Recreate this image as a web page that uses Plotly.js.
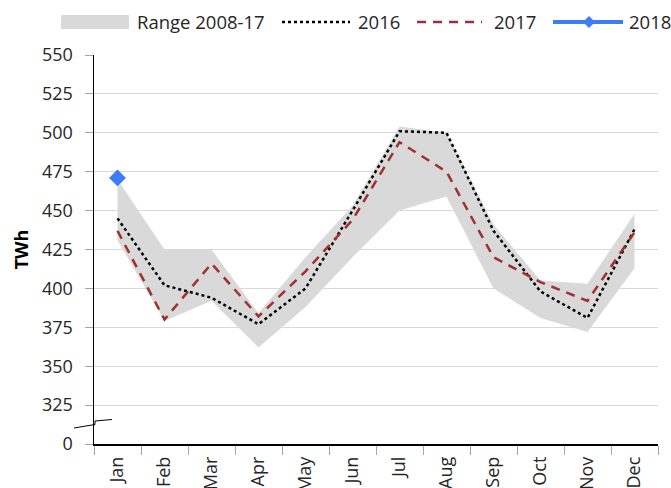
<!DOCTYPE html>
<html>
<head>
<meta charset="utf-8">
<script src="https://cdn.plot.ly/plotly-3.0.1.min.js"></script>
<style>html,body{margin:0;padding:0;background:#fff;}#chart{width:671px;height:488px;}</style>
</head>
<body>
<div id="chart"></div>
<script>
const months = ['Jan','Feb','Mar','Apr','May','Jun','Jul','Aug','Sep','Oct','Nov','Dec'];
const rangeMin = [431, 379, 392, 362, 388, 420, 450, 459, 400, 381, 372, 413];
const rangeMax = [470, 425, 425, 384, 420, 453, 504, 500, 441, 405, 403, 448];
const y2016 = [445, 402, 394, 377, 400, 450, 501, 500, 437, 398, 381, 438];
const y2017 = [437, 380, 416, 382, 411, 444, 494, 475, 420, 404, 392, 436];
const y2018 = [471];
const yTickVals = [300, 325, 350, 375, 400, 425, 450, 475, 500, 525, 550];
const yTickText = ['0', '325', '350', '375', '400', '425', '450', '475', '500', '525', '550'];

const W = 671, H = 488;
const M = {l: 94, r: 13, t: 55, b: 44};
const PW = W - M.l - M.r, PH = H - M.t - M.b;
const px = x => (x - M.l) / PW;
const py = y => (H - M.b - y) / PH;

const FONT = 'Open Sans, Noto Sans, sans-serif';
const grey = '#d9d9d9', red = '#a0302d', blue = '#3b7df5';

const traces = [
  {x: months, y: rangeMin, type: 'scatter', mode: 'lines', line: {width: 0, color: grey}, hoverinfo: 'skip', showlegend: false},
  {x: months, y: rangeMax, type: 'scatter', mode: 'lines', fill: 'tonexty', fillcolor: grey, line: {width: 0, color: grey}, name: 'Range 2008-17', showlegend: false},
  {x: months, y: y2016, type: 'scatter', mode: 'lines', line: {color: '#000', width: 2.5, dash: 'dot'}, name: '2016', showlegend: false},
  {x: months, y: y2017, type: 'scatter', mode: 'lines', line: {color: red, width: 2.5, dash: '9px,7px'}, name: '2017', showlegend: false},
  {x: months.slice(0, y2018.length), y: y2018, type: 'scatter', mode: 'lines+markers', line: {color: blue, width: 4}, marker: {symbol: 'diamond', size: 13, color: blue}, name: '2018', showlegend: false}
];

// custom legend
const legY = 22;
const shapes = [
  {type: 'rect', xref: 'paper', yref: 'paper', x0: px(61), x1: px(129), y0: py(29), y1: py(15), fillcolor: grey, line: {width: 0}},
  {type: 'line', xref: 'paper', yref: 'paper', x0: px(282), x1: px(350), y0: py(legY), y1: py(legY), line: {color: '#000', width: 2.5, dash: 'dot'}},
  {type: 'line', xref: 'paper', yref: 'paper', x0: px(417), x1: px(482), y0: py(legY), y1: py(legY), line: {color: red, width: 2.5, dash: '9px,7px'}},
  {type: 'line', xref: 'paper', yref: 'paper', x0: px(553), x1: px(623), y0: py(legY), y1: py(legY), line: {color: blue, width: 4}},
  {type: 'path', xref: 'paper', yref: 'paper',
   path: `M ${px(589)} ${py(legY-6)} L ${px(595)} ${py(legY)} L ${px(589)} ${py(legY+6)} L ${px(583)} ${py(legY)} Z`,
   fillcolor: blue, line: {width: 0}},
  // axis break mark
  {type: 'path', xref: 'paper', yref: 'paper',
   path: `M ${px(74)} ${py(428)} L ${px(95)} ${py(424.5)} L ${px(95)} ${py(421)} L ${px(112)} ${py(419.5)}`,
   line: {color: '#000', width: 1}}
];
const annFont = {family: FONT, size: 18.5, color: '#262626'};
const annotations = [
  {text: 'Range 2008-17', x: px(135), xanchor: 'left'},
  {text: '2016', x: px(356), xanchor: 'left'},
  {text: '2017', x: px(492), xanchor: 'left'},
  {text: '2018', x: px(627), xanchor: 'left'}
].map(a => Object.assign({xref: 'paper', yref: 'paper', y: py(legY), yanchor: 'middle', showarrow: false, font: annFont}, a));

const layout = {
  width: W, height: H,
  margin: M,
  paper_bgcolor: '#fff', plot_bgcolor: '#fff',
  font: {family: FONT, size: 18, color: '#262626'},
  showlegend: false,
  xaxis: {
    type: 'category', range: [-0.5, 11.5], tickson: 'boundaries',
    ticks: 'outside', ticklen: 9, tickcolor: '#a6a6a6', tickwidth: 1,
    tickangle: -90, showgrid: false, showline: true, linecolor: '#000', linewidth: 1.5,
    automargin: false, ticklabelstandoff: 4,
    tickfont: {family: FONT, size: 18, color: '#262626'}, fixedrange: true
  },
  yaxis: {
    range: [300, 550], tickvals: yTickVals, ticktext: yTickText,
    ticks: 'outside', ticklen: 8, tickcolor: '#a6a6a6', tickwidth: 1,
    showgrid: true, gridcolor: grey, gridwidth: 1, zeroline: false,
    showline: true, linecolor: '#000', linewidth: 1.5,
    automargin: false, ticklabelstandoff: 8,
    tickfont: {family: FONT, size: 18, color: '#262626'},
    title: {text: '<b>TWh</b>', font: {family: FONT, size: 18, color: '#000'}, standoff: 8},
    fixedrange: true
  },
  shapes: shapes,
  annotations: annotations
};
Plotly.newPlot('chart', traces, layout, {displayModeBar: false, staticPlot: true});
</script>
</body>
</html>
